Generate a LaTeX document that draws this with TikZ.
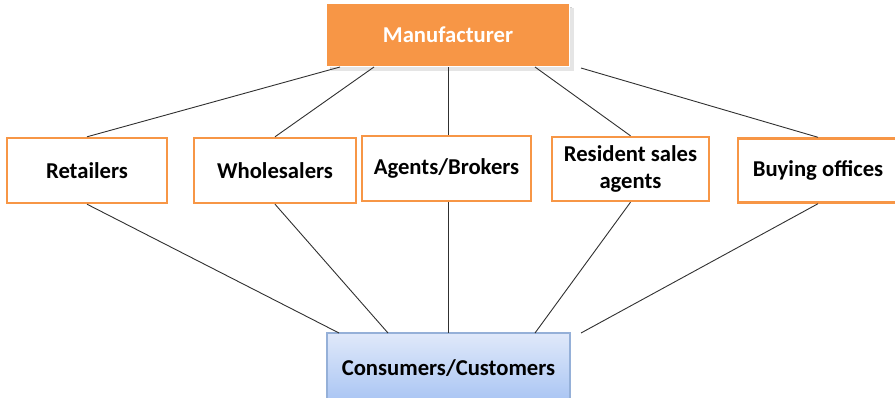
\documentclass[tikz,border=0pt]{standalone}
\usepackage{fontspec}
\setmainfont{Carlito}
\usetikzlibrary{calc}
\newdimen\px \px=0.75pt
\definecolor{orangeA}{HTML}{F79646}
\definecolor{blueTop}{HTML}{E0E9FA}
\definecolor{blueBot}{HTML}{A8C4F3}
\definecolor{blueEdge}{HTML}{95B0D8}
\definecolor{lineC}{HTML}{303030}
\tikzset{
  mid/.style={draw=orangeA, line width=2.4\px, fill=white, inner sep=0pt, align=center,
    font=\fontsize{17pt}{19.8pt}\selectfont\bfseries, text=black},
  topbox/.style={fill=orangeA, draw=white, line width=1.5\px, inner sep=0pt,
    font=\fontsize{17pt}{19.8pt}\selectfont\bfseries, text=white},
  botbox/.style={top color=blueTop, bottom color=blueBot, draw=blueEdge, line width=1.2\px, inner sep=0pt,
    font=\fontsize{17pt}{19.8pt}\selectfont\bfseries, text=black},
  conn/.style={draw=lineC, line width=0.9\px}
}
\begin{document}
\begin{tikzpicture}[x=0.75pt,y=-0.75pt]
\useasboundingbox (0,0) rectangle (895,397);
% shadow of manufacturer
\fill[black!18] (330,7) rectangle (572,69);
\fill[black!10] (331,8) rectangle (574,71);
\node[topbox, minimum width=243\px, minimum height=63\px] (man) at (448,35) {Manufacturer};
\node[mid, minimum width=160\px, minimum height=65\px] (ret) at (87,170.5) {Retailers};
\node[mid, minimum width=162\px, minimum height=65\px] (who) at (275,170.5) {Wholesalers};
\node[mid, minimum width=169\px, minimum height=65\px] (age) at (446.5,168.5) {Agents/Brokers};
\node[mid, minimum width=157\px, minimum height=64\px] (res) at (630.5,169) {Resident sales\\agents};
\node[mid, minimum width=160\px, minimum height=64\px] (buy) at (818,170.5) {Buying offices};
\node[botbox, minimum width=243\px, minimum height=70\px] (con) at (448.5,368) {Consumers/Customers};
% anchor points
\coordinate (m1) at (340,67);
\coordinate (m2) at (374,67);
\coordinate (m3) at (448,67);
\coordinate (m4) at (535,67);
\coordinate (m5) at (581,68);
\coordinate (c1) at (339,333);
\coordinate (c2) at (388,333);
\coordinate (c3) at (448,333);
\coordinate (c4) at (535,333);
\coordinate (c5) at (581,333);
\draw[conn] (m1) -- (ret.north);
\draw[conn] (m2) -- (who.north);
\draw[conn] (m3) -- (m3 |- age.north);
\draw[conn] (m4) -- (res.north);
\draw[conn] (m5) -- (buy.north);
\draw[conn] (ret.south) -- (c1);
\draw[conn] (who.south) -- (c2);
\draw[conn] (c3 |- age.south) -- (c3);
\draw[conn] (res.south) -- (c4);
\draw[conn] (buy.south) -- (c5);
\end{tikzpicture}
\end{document}
